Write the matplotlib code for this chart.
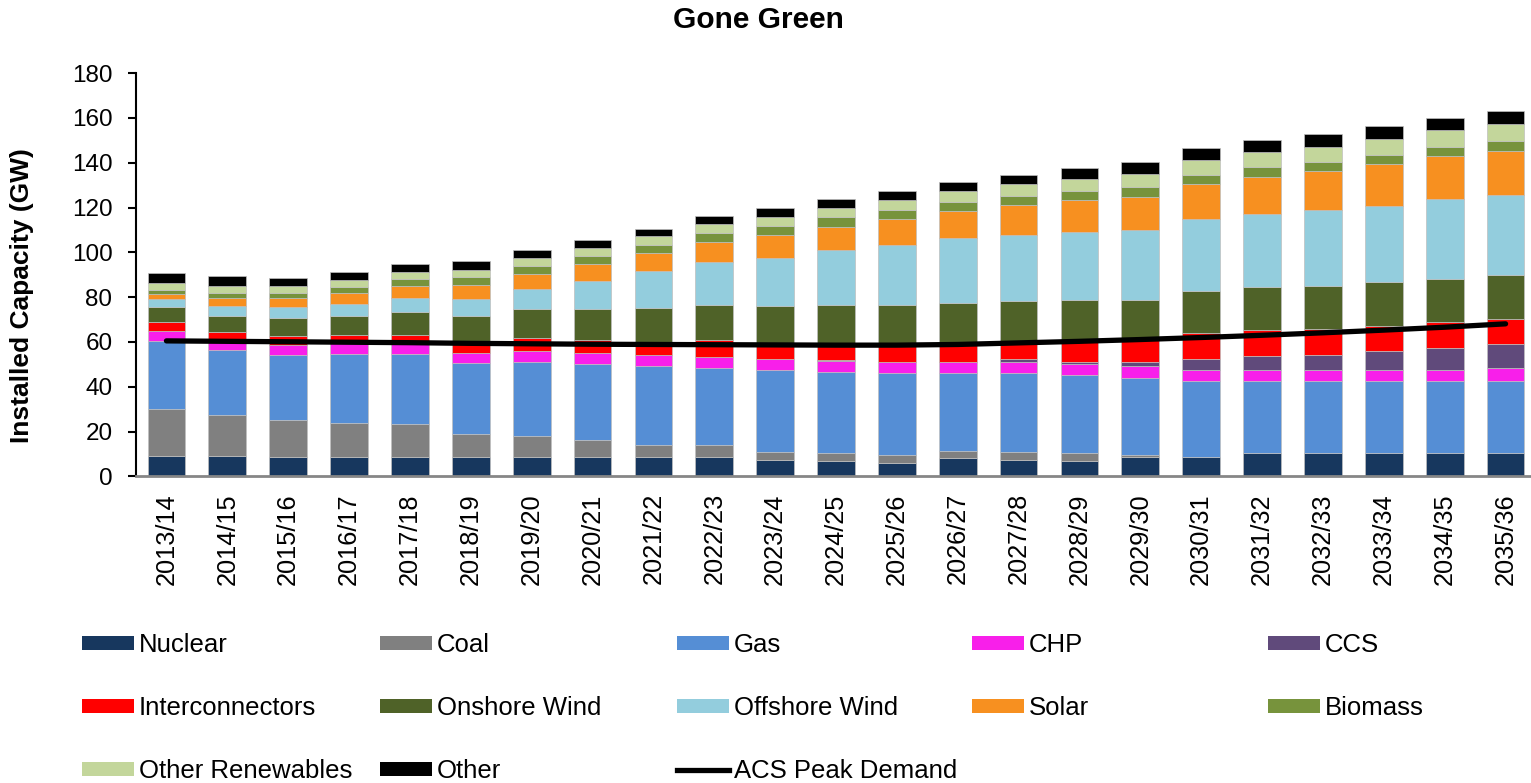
import numpy as np
import matplotlib
matplotlib.use("Agg")
import matplotlib.pyplot as plt
from matplotlib.patches import Patch
from matplotlib.lines import Line2D

plt.rcParams['font.family'] = ['Liberation Sans', 'DejaVu Sans']

years = ['2013/14', '2014/15', '2015/16', '2016/17', '2017/18', '2018/19', '2019/20',
         '2020/21', '2021/22', '2022/23', '2023/24', '2024/25', '2025/26', '2026/27',
         '2027/28', '2028/29', '2029/30', '2030/31', '2031/32', '2032/33', '2033/34',
         '2034/35', '2035/36']

# installed capacity by technology (GW)
nuclear = [9.3, 9.3, 8.8, 8.8, 8.8, 8.8, 8.8, 8.8, 8.8, 8.8, 7.5, 7.0, 6.1, 8.1, 7.5, 7.0,
           8.8, 8.8, 10.6, 10.6, 10.6, 10.6, 10.6]
coal = [20.6, 18.0, 16.2, 14.9, 14.4, 10.1, 9.1, 7.3, 5.1, 5.1, 3.3, 3.3, 3.3, 3.3, 3.3, 3.3,
        0.6, 0, 0, 0, 0, 0, 0]
gas = [30.6, 29.0, 29.4, 31.0, 31.5, 31.7, 33.1, 34.2, 35.6, 34.3, 36.5, 36.4, 36.6, 34.6,
       35.2, 34.8, 34.5, 33.7, 31.8, 31.8, 31.8, 31.8, 31.8]
chp = [4.3, 4.2, 4.2, 4.7, 4.2, 4.7, 4.9, 4.7, 4.9, 5.2, 4.9, 4.9, 5.3, 5.0, 5.0, 5.3, 5.3,
       5.2, 5.3, 5.3, 5.3, 5.3, 5.9]
ccs = [0, 0, 0, 0, 0, 0, 0, 0, 0, 0, 0, 0.2, 0, 0, 1.2, 0.9, 2.1, 4.5, 6.1, 6.7, 8.3, 9.8, 10.6]
interconnectors = [3.9, 4.0, 4.0, 3.5, 4.4, 4.3, 6.1, 6.1, 4.9, 7.4, 7.1, 7.3, 7.6, 8.3, 7.7,
                   9.3, 10.0, 11.6, 11.5, 11.2, 11.3, 11.3, 11.4]
onshore = [6.7, 7.0, 7.9, 8.7, 10.0, 12.2, 12.5, 13.7, 15.9, 15.6, 16.8, 17.4, 17.8, 18.3,
           18.4, 18.2, 17.5, 19.0, 19.1, 19.4, 19.3, 19.5, 19.5]
offshore = [3.8, 4.7, 5.0, 5.4, 6.5, 7.4, 9.2, 12.6, 16.3, 19.1, 21.5, 24.4, 26.7, 28.6, 29.6,
            30.4, 31.3, 32.0, 32.8, 33.7, 34.2, 35.3, 35.6]
solar = [2.4, 3.6, 4.3, 4.7, 5.2, 6.1, 6.8, 7.6, 8.2, 9.1, 10.0, 10.4, 11.4, 12.1, 13.0, 14.0,
         14.5, 15.6, 16.5, 17.4, 18.4, 19.3, 20.0]
biomass = [1.8, 2.1, 2.1, 3.0, 3.1, 3.7, 3.6, 3.5, 3.6, 4.0, 4.1, 4.4, 4.2, 4.3, 4.2, 4.1,
           4.4, 4.3, 4.2, 4.1, 4.1, 4.2, 4.2]
other_renewables = [2.9, 3.0, 3.0, 3.1, 3.0, 3.3, 3.5, 3.6, 4.0, 4.0, 4.0, 4.0, 4.5, 4.7,
                    5.3, 5.5, 6.1, 6.3, 6.8, 7.0, 7.2, 7.4, 7.7]
other = [4.5, 4.6, 3.7, 3.6, 3.7, 3.7, 3.6, 3.6, 3.2, 3.4, 4.0, 4.1, 4.0, 4.2, 4.2, 4.9, 5.3,
         5.6, 5.5, 5.7, 5.8, 5.5, 5.6]

peak_demand = [60.5, 60.3, 60.1, 59.9, 59.7, 59.4, 59.2, 59.0, 58.9, 58.8, 58.7, 58.6, 58.6,
               58.9, 59.6, 60.3, 61.1, 62.0, 63.0, 64.1, 65.3, 66.6, 68.1]

series = [
    ('Nuclear', nuclear, '#17375E'),
    ('Coal', coal, '#808080'),
    ('Gas', gas, '#558ED5'),
    ('CHP', chp, '#F81FEA'),
    ('CCS', ccs, '#604A7B'),
    ('Interconnectors', interconnectors, '#FF0000'),
    ('Onshore Wind', onshore, '#4F6228'),
    ('Offshore Wind', offshore, '#93CDDD'),
    ('Solar', solar, '#F79020'),
    ('Biomass', biomass, '#77933C'),
    ('Other Renewables', other_renewables, '#C3D69B'),
    ('Other', other, '#000000'),
]

fig = plt.figure(figsize=(15.31, 7.83), dpi=100)
ax = fig.add_axes([136 / 1531, 1 - 476.5 / 783, 1400 / 1531, 403.5 / 783])

x = np.arange(len(years))
bottom = np.zeros(len(years))
handles = []
for name, vals, col in series:
    vals = np.array(vals)
    ax.bar(x, vals, 0.62, bottom=bottom, color=col, edgecolor='#bfbfbf', linewidth=0.5)
    bottom += vals
    handles.append(Patch(facecolor=col, label=name))

ax.plot(x, peak_demand, color='black', lw=3.8, solid_capstyle='round', zorder=5)
handles.append(Line2D([], [], color='black', lw=3.8, label='ACS Peak Demand'))

ax.set_xlim(-0.5, len(years) - 0.5)
ax.set_ylim(0, 180)
ax.set_yticks(np.arange(0, 181, 20))
ax.set_xticks(x)
ax.set_xticklabels(years, rotation=90)
ax.tick_params(axis='y', labelsize=17.5, length=6, width=1.5, pad=11, direction='out')
ax.tick_params(axis='x', labelsize=18.3, length=0, pad=12)

for s in ['top', 'right']:
    ax.spines[s].set_visible(False)
ax.spines['left'].set_linewidth(1.5)
ax.spines['bottom'].set_color('#868686')
ax.spines['bottom'].set_linewidth(2)

fig.text(758 / 1531, 1 - 20 / 783, 'Gone Green', ha='center', va='center',
         fontsize=21.5, fontweight='bold')
fig.text(22 / 1531, 1 - 296 / 783, 'Installed Capacity (GW)', ha='center', va='center',
         rotation=90, fontsize=19, fontweight='bold')

# legend laid out as five fixed-width columns
col_x = [82, 380, 677, 972, 1268]
for k, cx in enumerate(col_x):
    hs = handles[k::5]
    fig.legend(handles=hs, loc='upper left', bbox_to_anchor=(cx / 1531, 1 - 633 / 783),
               frameon=False, fontsize=18.5, handlelength=2.02, handleheight=0.5,
               handletextpad=0.2, labelspacing=1.52, borderpad=0, borderaxespad=0)

fig.savefig('out.png', dpi=100)
